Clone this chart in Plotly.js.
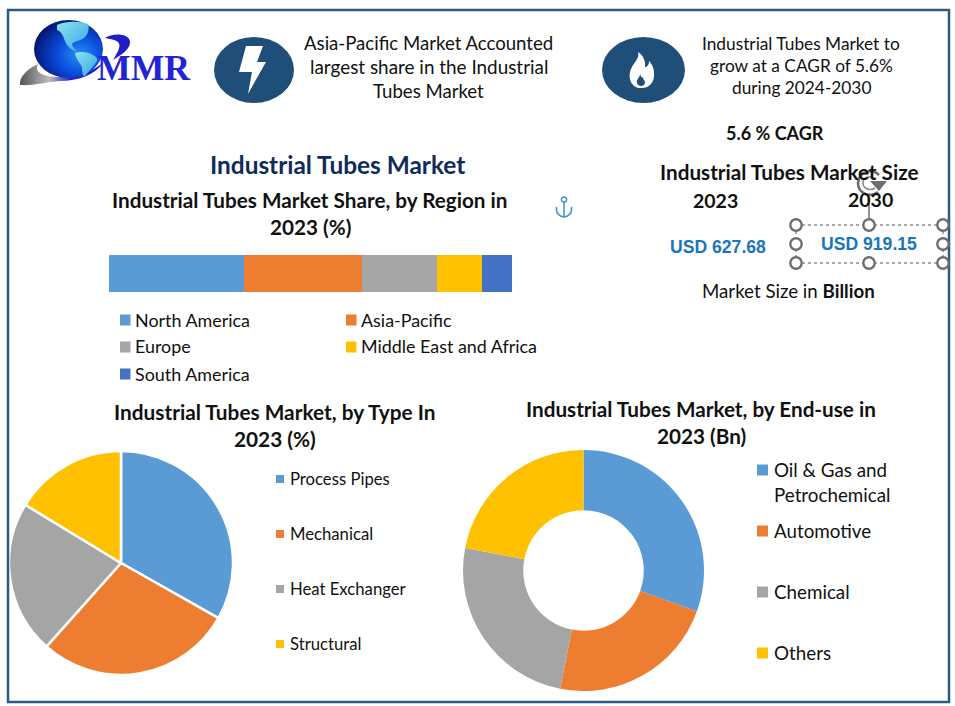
<!DOCTYPE html>
<html>
<head>
<meta charset="utf-8">
<script src="https://cdn.plot.ly/plotly-3.0.1.min.js"></script>
<style>html,body{margin:0;padding:0;background:#fff}#chart{width:955px;height:706px}</style>
</head>
<body>
<div id="chart"></div>
<script>
// ---- data ----
const regions = ['North America','Asia-Pacific','Europe','Middle East and Africa','South America'];
const regionShares = [33.5, 29.3, 18.6, 11.2, 7.4];
const types = ['Process Pipes','Mechanical','Heat Exchanger','Structural'];
const typeShares = [33.2, 28.4, 22.1, 16.3];
const endUses = ['Oil & Gas and Petrochemical','Automotive','Chemical','Others'];
const endUseValues = [30.5, 22.6, 24.9, 22.0];
const marketYears = ['2023','2030'];
const marketSizes = ['USD 627.68','USD 919.15'];
const palette = ['#5b9bd5','#ed7d31','#a5a5a5','#ffc000','#4472c4'];

// ---- layout helpers (pixel -> paper) ----
const W = 955, H = 706;
const X = p => p / W, Y = p => 1 - p / H;
const FONT = 'Lato, Carlito, sans-serif';
const BLK = '#111111', NAVY = '#1f4e79', GREY = '#6e6e6e';
const path = s => s.replace(/(-?[\d.]+),(-?[\d.]+)/g, (m, a, b) => X(+a) + ',' + Y(+b));

const annotations = [];
function txt(text, x, y, size, opt) {
  opt = opt || {};
  annotations.push({
    text: opt.bold ? '<b>' + text + '</b>' : text,
    xref: 'paper', yref: 'paper', x: X(x), y: Y(y),
    xanchor: opt.anchor || 'center', yanchor: 'middle', showarrow: false,
    font: { family: opt.family || FONT, size: size, color: opt.color || BLK }
  });
}
const shapes = [];
const rect = (x0, y0, x1, y1, fill) => shapes.push({ type: 'rect', xref: 'paper', yref: 'paper',
  x0: X(x0), x1: X(x1), y0: Y(y1), y1: Y(y0), fillcolor: fill, line: { width: 0 } });
const ell = (cx, cy, rx, ry, fill, lc, lw) => shapes.push({ type: 'circle', xref: 'paper', yref: 'paper',
  x0: X(cx - rx), x1: X(cx + rx), y0: Y(cy + ry), y1: Y(cy - ry), fillcolor: fill,
  line: { width: lw || 0, color: lc || fill } });
const pth = (s, fill, lc, lw, dash) => shapes.push({ type: 'path', xref: 'paper', yref: 'paper', path: path(s),
  fillcolor: fill || 'rgba(0,0,0,0)', line: { width: lw || 0, color: lc || 'rgba(0,0,0,0)', dash: dash || 'solid' } });

// frame
shapes.push({ type: 'rect', xref: 'paper', yref: 'paper', x0: X(8), x1: X(949), y0: Y(702), y1: Y(10),
  fillcolor: 'rgba(0,0,0,0)', line: { color: '#2a5b82', width: 2.5 } });

// header icons
ell(254, 70, 40, 33, NAVY);
pth('M246,46 L263,46 L257,62 L266,62 L248,94 L252,72 L239,72 Z', '#ffffff');
ell(643.5, 70, 41.5, 33, NAVY);
pth('M638,52 C640,58 634,62 631,69 C627,78 632,88 640,88 C649,89 655,82 654,73 C654,67 651,63 649,61 C649,65 647,67 645,67 C646,61 643,55 638,52 Z', '#ffffff');
pth('M640,74 C640,78 636,79 637,83 C638,87 644,87 645,83 C645,80 643,80 643,77 C642,79 641,76 640,74 Z', NAVY);

// selection handles
const hx = [796, 869, 943], hy = [225, 244, 263];
pth('M796,225 L943,225', null, '#555555', 1, 'dot');
pth('M796,263 L943,263', null, '#555555', 1, 'dot');
pth('M796,225 L796,263', null, '#555555', 1, 'dot');
pth('M943,225 L943,263', null, '#555555', 1, 'dot');
pth('M869,192 L869,219', null, GREY, 1.5);
hx.forEach(x => hy.forEach(y => { if (!(x === 869 && y === 244)) ell(x, y, 5.7, 5.7, '#ffffff', GREY, 2.4); }));
// rotate icon
pth('M879,175 C872,168 859,171 858,183 C858,194 871,198 878,192', null, '#ffffff', 5.5);
pth('M879,175 C872,168 859,171 858,183 C858,194 871,198 878,192', null, GREY, 2.6);
pth('M875,179 C870,175 863,177 863,183 C863,189 870,191 875,188', null, '#8c8c8c', 1.6);
pth('M870,181 L887,181 L879,191 Z', GREY);
// anchor
ell(564, 199.5, 2.6, 2.6, 'rgba(0,0,0,0)', '#3d93c9', 1.5);
pth('M564,202 L564,217', null, '#3d93c9', 1.5);
pth('M556.5,207 C555.5,213 560,217 564,217 C568,217 572.5,213 571.5,207', null, '#3d93c9', 1.5);

// legend swatches
const regionKeyX = [120, 120, 346, 346, 120], regionKeyY = [320, 347, 320, 347, 374];
const regionOrder = [0, 2, 1, 3, 4];
regionOrder.forEach((r, i) => {
  rect(regionKeyX[i], regionKeyY[i] - 5.5, regionKeyX[i] + 10.5, regionKeyY[i] + 5.5, palette[r]);
  txt(regions[r], regionKeyX[i] + 13, regionKeyY[i] - 0.5, 17.9, { anchor: 'left' });
});
const typeKeyY = [479, 534, 589, 644];
types.forEach((t, i) => {
  rect(276, typeKeyY[i] - 4, 284, typeKeyY[i] + 4, palette[i]);
  txt(t, 288, typeKeyY[i] - 0.5, 16.7, { anchor: 'left' });
});
const endKeyY = [470, 531, 592, 653];
endUses.forEach((t, i) => {
  rect(757, endKeyY[i] - 5.5, 768, endKeyY[i] + 5.5, palette[i]);
  if (i > 0) txt(t, 772, endKeyY[i] - 0.5, 18.8, { anchor: 'left' });
});
txt('Oil &amp; Gas and', 772, 469.5, 18.8, { anchor: 'left' });
txt('Petrochemical', 772, 494.5, 18.8, { anchor: 'left' });

// header texts
txt('Asia-Pacific Market Accounted', 428.5, 43, 18.6);
txt('largest share in the Industrial', 428.5, 67, 18.9);
txt('Tubes Market', 428.5, 91, 18.6);
txt('Industrial Tubes Market to', 801, 44, 17.3);
txt('grow at a CAGR of 5.6%', 801, 66, 17.3);
txt('during 2024-2030', 801, 88, 17.3);

// market-size block
txt('5.6 % CAGR', 775, 133, 18, { bold: true });
txt('Industrial Tubes Market Size', 789, 172, 20.7, { bold: true });
txt(marketYears[0], 715, 200, 19.5, { bold: true });
txt(marketYears[1], 870, 199, 19.5, { bold: true });
txt(marketSizes[0], 718, 247, 17.6, { bold: true, color: '#1b75bb', family: 'Liberation Sans, Arial, sans-serif' });
txt(marketSizes[1], 869, 244, 17.6, { bold: true, color: '#1b75bb', family: 'Liberation Sans, Arial, sans-serif' });
txt('Market Size in <b>Billion</b>', 788, 291, 18.7);

// chart titles
txt('Industrial Tubes Market', 337.5, 165, 24.4, { bold: true, color: '#0f2b5b' });
txt('Industrial Tubes Market Share, by Region in', 310, 200, 20.7, { bold: true });
txt('2023 (%)', 310, 227, 20.7, { bold: true });
txt('Industrial Tubes Market, by Type In', 274.5, 411.5, 20.8, { bold: true });
txt('2023 (%)', 274.5, 438.5, 20.8, { bold: true });
txt('Industrial Tubes Market, by End-use in', 701, 408.5, 20.7, { bold: true });
txt('2023 (Bn)', 701, 435.5, 20.7, { bold: true });

// logo text
txt('MMR', 143.5, 68, 35.7, { bold: true, color: '#2323d6', family: 'Liberation Serif, serif' });

// logo artwork
const logoSvg = `<svg xmlns="http://www.w3.org/2000/svg" width="130" height="90" viewBox="15 10 130 90">
<defs>
<radialGradient id="g" cx="0.66" cy="0.6" r="0.75">
<stop offset="0" stop-color="#2a90f0"/><stop offset="0.4" stop-color="#0b50e0"/><stop offset="0.8" stop-color="#05208c"/><stop offset="1" stop-color="#020a38"/>
</radialGradient>
<linearGradient id="c" x1="0" y1="0" x2="1" y2="1">
<stop offset="0" stop-color="#8fe4ee"/><stop offset="1" stop-color="#2fa6e6"/>
</linearGradient>
<linearGradient id="s" x1="0" y1="0" x2="1" y2="0">
<stop offset="0" stop-color="#555"/><stop offset="0.35" stop-color="#bcbcbc"/><stop offset="0.6" stop-color="#2222c8"/><stop offset="1" stop-color="#1818c0"/>
</linearGradient>
</defs>
<path d="M20,85 C19,77 27,69 38,64 C34,72 42,77 60,77 C78,77 92,72 104,62 C95,75 78,81 60,81 C46,82 32,86 20,85 Z" fill="url(#s)"/>
<ellipse cx="68.5" cy="49" rx="34.5" ry="29" fill="url(#g)"/>
<path d="M57,25 C66,21 80,21 88,24 C90,30 87,36 84,38 C80,41 74,41 72,44 C72,47 76,50 77,52 C72,50 67,47 65,41 C63,36 62,32 57,30 Z" fill="url(#c)"/>
<path d="M75,53 C80,51 88,52 91,54 C95,56 98,58 97,61 C94,66 89,71 85,76 C83,78 82,72 82,67 C80,63 76,59 75,53 Z" fill="url(#c)"/>
<path d="M105,38 C112,33 128,33 130,41 C131,49 121,55 113,60 C117,53 122,46 118,42 C114,39 109,39 105,38 Z" fill="#1f1fc8"/>
</svg>`;

const images = [{
  source: 'data:image/svg+xml;charset=utf-8,' + encodeURIComponent(logoSvg),
  xref: 'paper', yref: 'paper', x: X(15), y: Y(10), sizex: 130 / W, sizey: 90 / H,
  xanchor: 'left', yanchor: 'top', sizing: 'stretch', layer: 'below'
}];

// ---- traces ----
const traces = regions.map((r, i) => ({
  type: 'bar', orientation: 'h', name: r, x: [regionShares[i]], y: ['2023'],
  marker: { color: palette[i], line: { width: 0 } }, width: 1, hoverinfo: 'name+x'
}));
traces.push({
  type: 'pie', labels: types, values: typeShares, sort: false, direction: 'clockwise', rotation: 0,
  marker: { colors: palette.slice(0, 4), line: { color: '#ffffff', width: 2.5 } },
  textinfo: 'none', automargin: false,
  domain: { x: [X(9), X(233)], y: [Y(675), Y(451)] }
});
traces.push({
  type: 'pie', labels: endUses, values: endUseValues, hole: 0.5, sort: false, direction: 'clockwise', rotation: 0,
  marker: { colors: palette.slice(0, 4), line: { color: '#ffffff', width: 0 } },
  textinfo: 'none', automargin: false,
  domain: { x: [X(463), X(704)], y: [Y(691), Y(450)] }
});

const layout = {
  width: W, height: H, margin: { l: 0, r: 0, t: 0, b: 0 },
  paper_bgcolor: '#ffffff', plot_bgcolor: '#ffffff',
  showlegend: false, barmode: 'stack', bargap: 0,
  xaxis: { domain: [X(109), X(512)], range: [0, 100], visible: false, fixedrange: true },
  yaxis: { domain: [Y(292), Y(255)], visible: false, type: 'category', fixedrange: true },
  annotations, shapes, images
};
Plotly.newPlot('chart', traces, layout, { displayModeBar: false, staticPlot: true });
</script>
</body>
</html>
